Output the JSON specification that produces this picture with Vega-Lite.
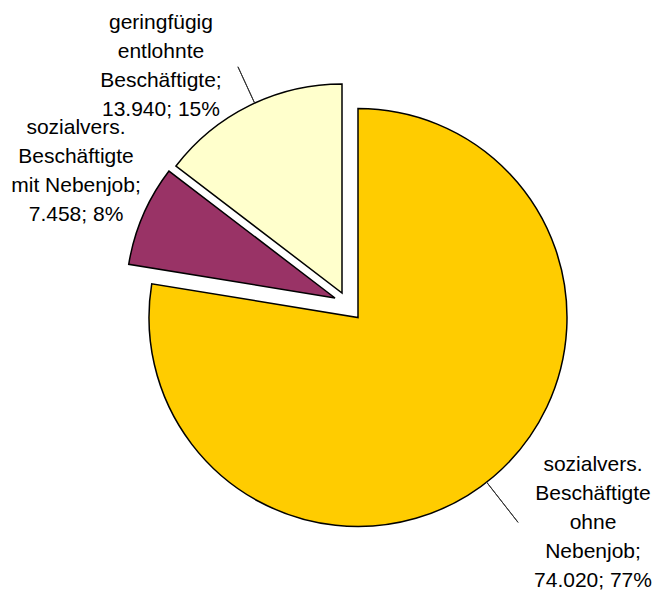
{
  "$schema": "https://vega.github.io/schema/vega-lite/v6.json",
  "width": 594,
  "height": 555,
  "padding": {"left": 61, "top": 40, "right": 0, "bottom": 0},
  "autosize": {"type": "none"},
  "background": "white",
  "config": {"view": {"stroke": null}},
  "data": {
    "values": [
      {"Gruppe": "sozialvers. Beschäftigte ohne Nebenjob", "Anzahl": 74020, "Reihenfolge": 1, "Beschriftung": "sozialvers.\nBeschäftigte\nohne\nNebenjob;\n74.020; 77%"},
      {"Gruppe": "sozialvers. Beschäftigte mit Nebenjob", "Anzahl": 7458, "Reihenfolge": 2, "Beschriftung": "sozialvers.\nBeschäftigte\nmit Nebenjob;\n7.458; 8%"},
      {"Gruppe": "geringfügig entlohnte Beschäftigte", "Anzahl": 13940, "Reihenfolge": 3, "Beschriftung": "geringfügig\nentlohnte\nBeschäftigte;\n13.940; 15%"}
    ]
  },
  "transform": [
    {"stack": "Anzahl", "groupby": [], "sort": [{"field": "Reihenfolge", "order": "ascending"}], "as": ["start", "end"]}
  ],
  "layer": [
    {
      "transform": [{"filter": "datum.Reihenfolge == 1"}],
      "mark": {"type": "arc", "outerRadius": 209, "stroke": "black", "strokeWidth": 1.5, "strokeJoin": "miter"},
      "encoding": {
        "theta": {"field": "end", "type": "quantitative", "stack": null, "scale": {"type": "linear", "zero": true, "nice": false}},
        "theta2": {"field": "start"},
        "color": {"field": "Gruppe", "type": "nominal", "legend": null,
          "scale": {"domain": ["sozialvers. Beschäftigte ohne Nebenjob", "sozialvers. Beschäftigte mit Nebenjob", "geringfügig entlohnte Beschäftigte"], "range": ["#FFCC00", "#993366", "#FFFFCC"]}}
      }
    },
    {
      "transform": [{"filter": "datum.Reihenfolge == 2"}],
      "mark": {"type": "arc", "outerRadius": 209, "stroke": "black", "strokeWidth": 1.5, "strokeJoin": "miter", "xOffset": -23, "yOffset": -19.5},
      "encoding": {
        "theta": {"field": "end", "type": "quantitative", "stack": null, "scale": {"type": "linear", "zero": true, "nice": false}},
        "theta2": {"field": "start"},
        "color": {"field": "Gruppe", "type": "nominal", "legend": null,
          "scale": {"domain": ["sozialvers. Beschäftigte ohne Nebenjob", "sozialvers. Beschäftigte mit Nebenjob", "geringfügig entlohnte Beschäftigte"], "range": ["#FFCC00", "#993366", "#FFFFCC"]}}
      }
    },
    {
      "transform": [{"filter": "datum.Reihenfolge == 3"}],
      "mark": {"type": "arc", "outerRadius": 209, "stroke": "black", "strokeWidth": 1.5, "strokeJoin": "miter", "xOffset": -16, "yOffset": -24.5},
      "encoding": {
        "theta": {"field": "end", "type": "quantitative", "stack": null, "scale": {"type": "linear", "zero": true, "nice": false}},
        "theta2": {"field": "start"},
        "color": {"field": "Gruppe", "type": "nominal", "legend": null,
          "scale": {"domain": ["sozialvers. Beschäftigte ohne Nebenjob", "sozialvers. Beschäftigte mit Nebenjob", "geringfügig entlohnte Beschäftigte"], "range": ["#FFCC00", "#993366", "#FFFFCC"]}}
      }
    },
    {
      "transform": [{"filter": "datum.Reihenfolge == 1"}],
      "mark": {"type": "arc", "innerRadius": 209, "outerRadius": 260, "fill": "transparent", "stroke": "#333333", "strokeWidth": 1, "thetaOffset": 2.4784, "theta2Offset": 2.4784},
      "encoding": {
        "theta": {"field": "start", "type": "quantitative", "stack": null, "scale": {"type": "linear", "zero": true, "nice": false}},
        "theta2": {"field": "start"}
      }
    },
    {
      "transform": [{"filter": "datum.Reihenfolge == 3"}],
      "mark": {"type": "arc", "innerRadius": 209, "outerRadius": 249, "fill": "transparent", "stroke": "#333333", "strokeWidth": 1, "thetaOffset": 0.4868, "theta2Offset": 0.4868, "xOffset": -16, "yOffset": -24.5},
      "encoding": {
        "theta": {"field": "start", "type": "quantitative", "stack": null, "scale": {"type": "linear", "zero": true, "nice": false}},
        "theta2": {"field": "start"}
      }
    },
    {
      "transform": [{"filter": "datum.Reihenfolge == 1"}],
      "mark": {"type": "text", "font": "Liberation Sans", "fontSize": 21, "align": "center", "baseline": "alphabetic", "lineBreak": "\n", "lineHeight": 29, "color": "black", "thetaOffset": 2.1494},
      "encoding": {
        "theta": {"field": "start", "type": "quantitative", "stack": null, "scale": {"type": "linear", "zero": true, "nice": false}},
        "radius": {"value": 280.7},
        "text": {"field": "Beschriftung"}
      }
    },
    {
      "transform": [{"filter": "datum.Reihenfolge == 2"}],
      "mark": {"type": "text", "font": "Liberation Sans", "fontSize": 21, "align": "center", "baseline": "alphabetic", "lineBreak": "\n", "lineHeight": 29, "color": "black", "thetaOffset": 0.4145},
      "encoding": {
        "theta": {"field": "start", "type": "quantitative", "stack": null, "scale": {"type": "linear", "zero": true, "nice": false}},
        "radius": {"value": 336.3},
        "text": {"field": "Beschriftung"}
      }
    },
    {
      "transform": [{"filter": "datum.Reihenfolge == 3"}],
      "mark": {"type": "text", "font": "Liberation Sans", "fontSize": 21, "align": "center", "baseline": "alphabetic", "lineBreak": "\n", "lineHeight": 29, "color": "black", "thetaOffset": 0.3182},
      "encoding": {
        "theta": {"field": "start", "type": "quantitative", "stack": null, "scale": {"type": "linear", "zero": true, "nice": false}},
        "radius": {"value": 349.1},
        "text": {"field": "Beschriftung"}
      }
    }
  ]
}
